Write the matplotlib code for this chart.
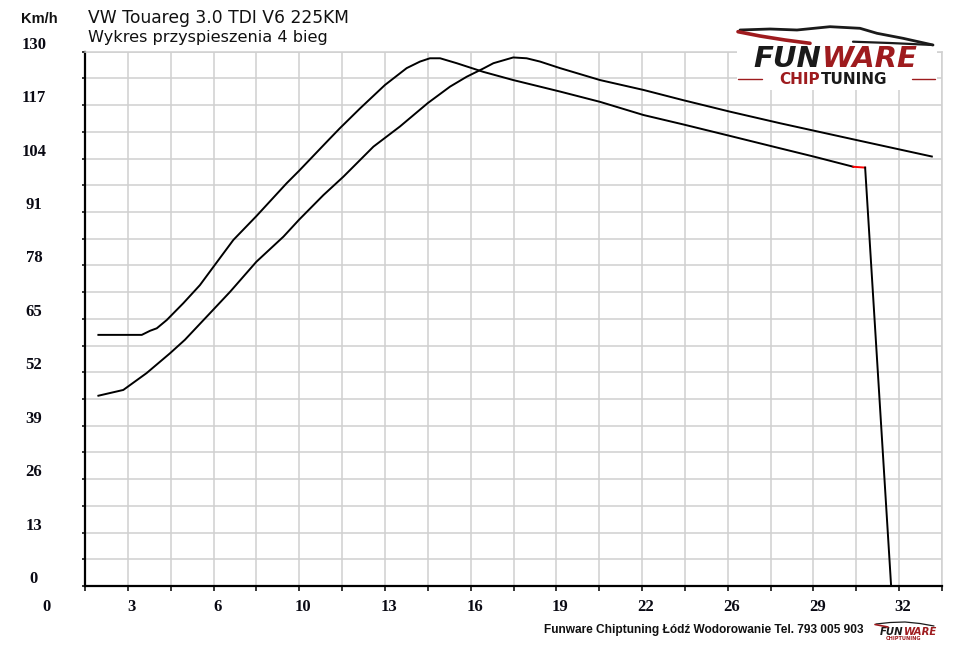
import matplotlib
matplotlib.use("Agg")
import matplotlib.pyplot as plt
import matplotlib.transforms as mtransforms
from matplotlib.patches import Rectangle
from matplotlib.lines import Line2D
import numpy as np

# ---------------- data ----------------
title_line1 = "VW Touareg 3.0 TDI V6 225KM"
title_line2 = "Wykres przyspieszenia 4 bieg"
y_unit = "Km/h"
footer = "Funware Chiptuning Łódź Wodorowanie Tel. 793 005 903"

x_label_values = [0, 3.2, 6.4, 9.6, 12.8, 16.0, 19.2, 22.4, 25.6, 28.8, 32.0]
x_tick_labels = ["0", "3", "6", "10", "13", "16", "19", "22", "26", "29", "32"]
y_label_values = [0, 13, 26, 39, 52, 65, 78, 91, 104, 117, 130]
y_tick_labels = ["0", "13", "26", "39", "52", "65", "78", "91", "104", "117", "130"]

# curve A (earlier peak, ends with a drop)
curve_a_t = [2.10, 3.72, 4.03, 4.28, 4.65, 5.27, 5.89, 6.40, 7.14, 8.00, 9.13,
             9.59, 10.69, 11.12, 11.87, 12.80, 13.61, 14.11, 14.48, 14.86,
             15.48, 16.47, 17.59, 18.59, 19.34, 20.83, 22.45, 23.94, 25.69,
             27.55, 28.80, 30.29]
curve_a_v = [61.1, 61.1, 62.1, 62.7, 64.7, 68.8, 73.2, 77.7, 84.2, 90.0, 98.0,
             101.0, 108.5, 111.4, 116.2, 121.9, 126.0, 127.6, 128.4, 128.4,
             127.2, 125.1, 123.1, 121.5, 120.3, 117.8, 114.6, 112.3, 109.5,
             106.5, 104.5, 102.0]
red_t = [30.29, 30.73]
red_v = [102.0, 101.8]
drop_t = [30.73, 31.70]
drop_v = [101.8, 0.0]

# curve B (later peak)
curve_b_t = [2.10, 3.03, 3.90, 4.77, 5.33, 6.27, 7.02, 8.00, 9.01, 9.59, 10.50,
             11.25, 12.37, 13.36, 14.40, 15.23, 15.85, 16.47, 16.85, 17.59,
             18.09, 18.59, 19.34, 20.83, 22.45, 23.94, 25.69, 27.55, 30.41, 33.22]
curve_b_v = [46.3, 47.7, 51.8, 56.6, 59.9, 66.4, 71.6, 78.9, 85.0, 89.1, 95.1,
             99.6, 106.9, 111.8, 117.5, 121.5, 123.9, 125.9, 127.2, 128.6,
             128.4, 127.6, 126.0, 123.1, 120.7, 118.2, 115.4, 112.6, 108.5, 104.5]

x_min, x_max, x_step = 1.6, 33.6, 1.6
y_min, y_max, y_step = 0, 130, 6.5

# ---------------- figure ----------------
W, H = 960, 649
fig = plt.figure(figsize=(W / 100, H / 100), dpi=100)
fig.patch.set_facecolor("white")

def fx(px):
    return px / W

def fy(py):
    return 1 - py / H

ax = fig.add_axes([fx(85), fy(586), fx(942) - fx(85), fy(51.7) - fy(586)])
ax.set_xlim(x_min, x_max)
ax.set_ylim(y_min, y_max)

grid_color = "#d0d0d0"
ax.set_xticks(np.arange(x_min, x_max + 0.01, x_step))
ax.set_yticks(np.arange(y_min, y_max + 0.01, y_step))
ax.grid(True, color=grid_color, linewidth=1.1)
ax.set_axisbelow(True)
ax.tick_params(axis="x", direction="out", length=3.8, width=1.1, color="black",
               labelbottom=False)
ax.tick_params(axis="y", direction="out", length=2.0, width=1.1, color="black",
               labelleft=False)
for s in ["left", "bottom"]:
    ax.spines[s].set_color("black")
    ax.spines[s].set_linewidth(1.6)
for s in ["top", "right"]:
    ax.spines[s].set_color(grid_color)
    ax.spines[s].set_linewidth(1.1)

# curves
lw = 1.4
ax.plot(curve_a_t, curve_a_v, color="black", linewidth=lw, solid_joinstyle="round")
ax.plot(red_t, red_v, color="#ff0000", linewidth=lw)
ax.plot(drop_t, drop_v, color="black", linewidth=lw)
ax.plot(curve_b_t, curve_b_v, color="black", linewidth=lw, solid_joinstyle="round")

# tick labels (drawn as text through the axes scales)
label_font = dict(family="Liberation Serif", weight="bold", size=12, color="#0a0a14")
xoff = mtransforms.ScaledTranslation(4 / 100, -20.7 / 100, fig.dpi_scale_trans)
for v, lab in zip(x_label_values, x_tick_labels):
    ax.text(v, 0, lab, transform=ax.get_xaxis_transform() + xoff,
            ha="center", va="center", clip_on=False, **label_font)
yoff = mtransforms.ScaledTranslation(-51 / 100, 7 / 100, fig.dpi_scale_trans)
for v, lab in zip(y_label_values, y_tick_labels):
    ax.text(0, v, lab, transform=ax.get_yaxis_transform() + yoff,
            ha="center", va="center", clip_on=False, **label_font)

# titles
fig.text(fx(21.5), fy(23.3), y_unit, family="Liberation Sans", weight="bold",
         size=10.5, color="#111111", va="baseline", ha="left")
fig.text(fx(88), fy(22.7), title_line1, family="DejaVu Sans", size=12.3,
         color="#111111", va="baseline", ha="left")
fig.text(fx(88), fy(41.7), title_line2, family="DejaVu Sans", size=11.6,
         color="#111111", va="baseline", ha="left")

# footer
fig.text(fx(864), fy(633), footer, family="Liberation Sans", weight="bold",
         size=8.6, color="#111111", va="baseline", ha="right")

# ---------------- logo (top right) ----------------
dark_red = "#9e1b1e"
logo_black = "#1a1a1a"
fig.add_artist(Rectangle((fx(737), fy(90)), fx(937) - fx(737), fy(0) - fy(90),
                         transform=fig.transFigure, facecolor="white",
                         edgecolor="none", zorder=5))

def poly(xs, ys, color, lw, z=6):
    fig.add_artist(Line2D([fx(x) for x in xs], [fy(y) for y in ys],
                          transform=fig.transFigure, color=color, linewidth=lw,
                          solid_capstyle="round", zorder=z))

# car silhouette
poly([740, 770, 797, 830, 860, 877, 903, 933],
     [30, 29, 30, 26.7, 28.3, 33.3, 38.3, 45], logo_black, 2.0)
poly([853, 890, 933], [41.7, 43, 45], logo_black, 1.6)
poly([738, 760, 785, 810], [31.7, 36, 40, 43.3], dark_red, 2.6)

fig.text(fx(821), fy(66.7), "FUN", family="DejaVu Sans", weight="bold",
         style="italic", size=21, color=logo_black, ha="right", va="baseline",
         zorder=6)
fig.text(fx(822), fy(66.7), "WARE", family="DejaVu Sans", weight="bold",
         style="italic", size=21, color=dark_red, ha="left", va="baseline",
         zorder=6)
fig.text(fx(820), fy(84), "CHIP", family="DejaVu Sans", weight="bold",
         size=11, color=dark_red, ha="right", va="baseline", zorder=6)
fig.text(fx(821), fy(84), "TUNING", family="DejaVu Sans", weight="bold",
         size=11, color=logo_black, ha="left", va="baseline", zorder=6)
poly([738, 762], [79, 79], dark_red, 1.0)
poly([912, 935], [79, 79], dark_red, 1.0)

# ---------------- small logo (bottom right) ----------------
poly([876, 890, 905, 920, 934], [624, 622.5, 622, 623.5, 626], logo_black, 0.9)
poly([875, 888], [624.5, 627], dark_red, 1.2)
fig.text(fx(903), fy(635), "FUN", family="DejaVu Sans", weight="bold",
         style="italic", size=7.3, color=logo_black, ha="right", va="baseline")
fig.text(fx(903.5), fy(635), "WARE", family="DejaVu Sans", weight="bold",
         style="italic", size=7.3, color=dark_red, ha="left", va="baseline")
fig.text(fx(904), fy(640.5), "CHIPTUNING", family="DejaVu Sans", weight="bold",
         size=3.6, color=dark_red, ha="center", va="baseline")

fig.savefig("out.png", dpi=100, facecolor="white")
